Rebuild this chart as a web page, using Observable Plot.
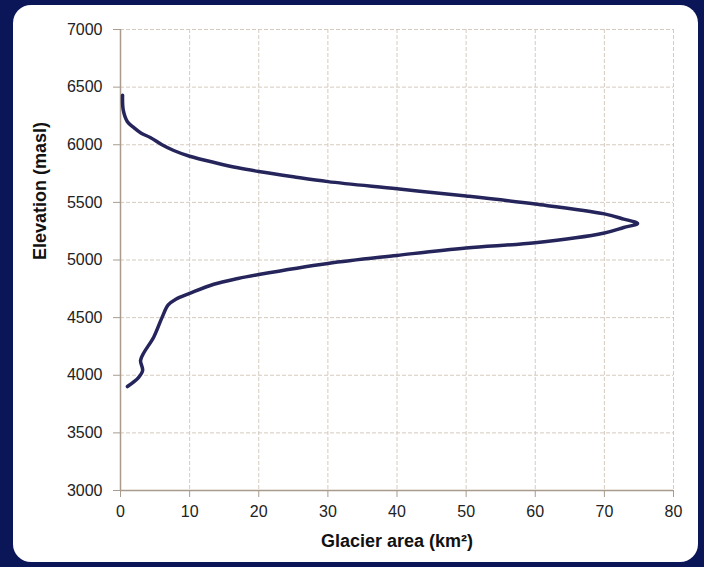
<!DOCTYPE html>
<html>
<head>
<meta charset="utf-8">
<script src="https://cdn.jsdelivr.net/npm/d3@7"></script>
<script src="https://cdn.jsdelivr.net/npm/@observablehq/plot@0.6"></script>
<style>
  html, body { margin: 0; padding: 0; background: #0b1658; width: 704px; height: 567px; overflow: hidden; }
  #panel { position: absolute; left: 13px; top: 5px; width: 685px; height: 557px; background: #ffffff; border-radius: 18px; }
  #chart { position: absolute; left: 0; top: 0; }
  svg { font-family: "Liberation Sans", Arial, sans-serif; }
</style>
</head>
<body>
<div id="panel"></div>
<div id="chart"></div>
<script>
// Glacier area (km²) by elevation (masl), traced top to bottom
const elevation = [6430, 6300, 6200, 6150, 6100, 6063, 6000, 5950, 5900, 5840, 5800, 5768, 5722, 5680, 5618, 5555, 5485, 5400, 5355, 5317, 5282, 5235, 5150, 5105, 5040, 4970, 4874, 4840, 4790, 4710, 4660, 4610, 4500, 4330, 4197, 4128, 4041, 3980, 3902];
const area      = [0.3,  0.4,  1.0,  1.9,  3.0,  4.3,  6.0,  7.7,  10.0, 14.0, 17.0, 20.0, 25.0, 30.0, 40.0, 50.0, 60.0, 70.0, 72.8, 74.8, 72.8, 70.0, 60.0, 50.0, 40.0, 30.0, 20.0, 17.0, 13.5, 10.0, 8.0,  6.9,  6.0,  4.8,  3.4,  2.9,  3.2,  2.6,  1.0];

const xTicks = [0, 10, 20, 30, 40, 50, 60, 70, 80];
const yTicks = [3000, 3500, 4000, 4500, 5000, 5500, 6000, 6500, 7000];
const xLabel = "Glacier area (km²)";
const yLabel = "Elevation (masl)";

const data = elevation.map((e, i) => ({elev: e, area: area[i]}));

const gridColor = "#d6cbbf";
const axisColor = "#a99b8d";

const chart = Plot.plot({
  width: 704,
  height: 567,
  marginLeft: 120,
  marginRight: 31,
  marginTop: 29,
  marginBottom: 77,
  style: {background: "transparent", fontFamily: "Liberation Sans, Arial, sans-serif"},
  x: {domain: [0, 80], ticks: xTicks},
  y: {domain: [3000, 7000], ticks: yTicks},
  marks: [
    Plot.gridX(xTicks, {stroke: gridColor, strokeOpacity: 1, strokeWidth: 1, strokeDasharray: "4,2"}),
    Plot.gridY(yTicks, {stroke: gridColor, strokeOpacity: 1, strokeWidth: 1, strokeDasharray: "4,2"}),
    Plot.ruleX([0], {stroke: axisColor, strokeWidth: 1.5}),
    Plot.ruleY([3000], {stroke: axisColor, strokeWidth: 1.5}),
    Plot.axisX(xTicks, {tickSize: 7, tickPadding: 8, fontSize: 16, stroke: axisColor, fill: "#222", tickFormat: d3.format("d"), label: null}),
    Plot.axisY(yTicks, {tickSize: 7, tickPadding: 11, fontSize: 16, stroke: axisColor, fill: "#222", tickFormat: d3.format("d"), label: null}),
    Plot.line(data, {x: "area", y: "elev", stroke: "#25255c", strokeWidth: 3.5, curve: "catmull-rom"}),
    Plot.text([xLabel], {frameAnchor: "bottom", dy: 56, fontSize: 18, fontWeight: "bold", fill: "#111"}),
    Plot.text([yLabel], {frameAnchor: "left", rotate: -90, dx: -80, fontSize: 18, fontWeight: "bold", fill: "#111"})
  ]
});
document.getElementById("chart").appendChild(chart);
</script>
</body>
</html>
